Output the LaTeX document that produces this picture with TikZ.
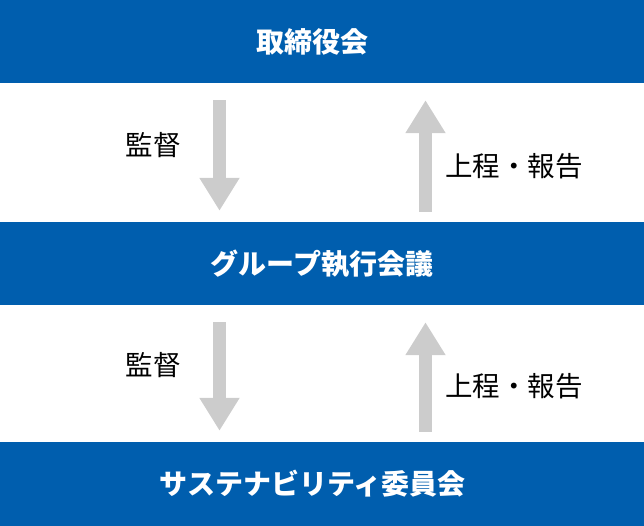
\documentclass[tikz,border=0pt]{standalone}
\usepackage{fontspec}
\setmainfont{Noto Sans CJK JP}
\usetikzlibrary{arrows.meta, positioning}
\definecolor{kaigiblue}{HTML}{005EAE}
\definecolor{yajirushi}{HTML}{CCCCCC}

\begin{document}
\begin{tikzpicture}[x=1pt, y=-1pt,
    kaigi/.style={fill=kaigiblue, minimum width=644pt, minimum height=83pt, inner sep=0pt},
    kaigimoji/.style={text=white, inner sep=0pt, font=\fontsize{28}{32}\selectfont\bfseries},
    yaji/.style={draw=yajirushi, line width=13pt, -{Triangle[length=33pt, width=38pt]}},
    midashi/.style={font=\fontsize{27.5}{32}\selectfont, inner sep=0pt}]
    \useasboundingbox (0,0) rectangle (644,526);
    % three bodies
    \node[kaigi, label={[kaigimoji, xshift=-10pt]center:取締役会}] (board) at (322,41.5) {};
    \node[kaigi, label={[kaigimoji]center:グループ執行会議}] (exec) at (322,263.5) {};
    \node[kaigi, minimum height=84pt, label={[kaigimoji, xshift=-9.5pt]center:サステナビリティ委員会}] (committee) at (322,484) {};
    % board <-> exec
    \draw[yaji, shorten <=17pt, shorten >=11pt] ([xshift=-102.5pt]board.south) -- ([xshift=-102.5pt]exec.north);
    \draw[yaji, shorten <=10pt, shorten >=17pt] ([xshift=103.5pt]exec.north) -- ([xshift=103.5pt]board.south);
    \node[midashi] (kantoku1) at (153,145) {監督};
    \node[midashi] (joutei1) at (514,166) {上程・報告};
    % exec <-> committee
    \draw[yaji, shorten <=17pt, shorten >=11pt] ([xshift=-102.5pt]exec.south) -- ([xshift=-102.5pt]committee.north);
    \draw[yaji, shorten <=10pt, shorten >=17pt] ([xshift=103.5pt]committee.north) -- ([xshift=103.5pt]exec.south);
    \node[midashi] (kantoku2) at (153,365) {監督};
    \node[midashi] (joutei2) at (514,386) {上程・報告};
\end{tikzpicture}
\end{document}
